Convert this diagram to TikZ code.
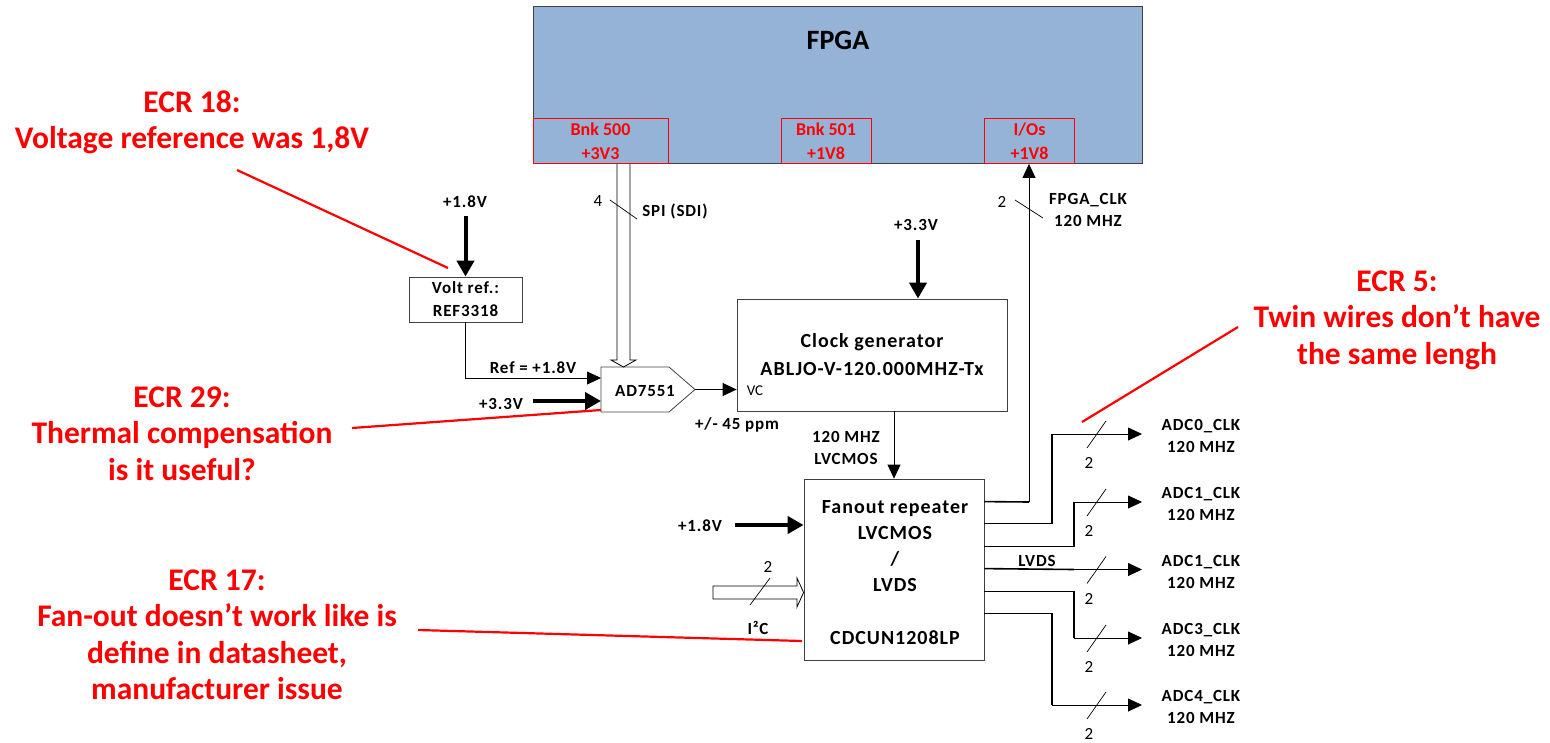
\documentclass[tikz,border=0pt]{standalone}
\usepackage{fontspec}
\setmainfont{Carlito}
\newfontfamily\lsfont[LetterSpace=5]{Carlito}
\usetikzlibrary{arrows.meta,calc}
\definecolor{fpgablue}{RGB}{149,179,215}
\definecolor{ecrred}{RGB}{255,0,0}
\definecolor{boxline}{RGB}{64,64,64}
\begin{document}
\begin{tikzpicture}[x=1pt,y=-1pt,
  box/.style={draw=boxline, line width=0.8pt, inner sep=0pt, align=center},
  bank/.style={draw=ecrred, text=ecrred, line width=0.8pt, minimum height=45pt, inner sep=0pt, align=center, font=\fontsize{18}{24}\selectfont\bfseries},
  lbl/.style={font=\lsfont\fontsize{17}{22}\selectfont\bfseries, inner sep=0pt, align=center},
  midtxt/.style={font=\lsfont\fontsize{20}{28}\selectfont\bfseries, inner sep=0pt, align=center},
  num/.style={font=\fontsize{17}{20}\selectfont, inner sep=0pt},
  ecr/.style={font=\fontsize{31.5}{36.5}\selectfont\bfseries, text=ecrred, align=center, inner sep=0pt},
  pwr/.style={line width=4pt, -{Triangle[length=16pt,width=17pt]}},
  sig/.style={line width=0.8pt, -{Triangle[length=14pt,width=13pt]}},
  wire/.style={line width=1.6pt},
  thinline/.style={line width=0.8pt},
  slash/.style={line width=0.7pt},
  redline/.style={draw=ecrred, line width=2.2pt}
]
\path[use as bounding box] (0,0) rectangle (1550,742);

% FPGA
\node[draw=boxline, fill=fpgablue, line width=0.8pt, minimum width=609pt, minimum height=157pt, inner sep=0pt] (fpga) at (837.5,84.5) {};
\node[font=\fontsize{28}{32}\selectfont\bfseries, inner sep=0pt] (fpgat) at (838,40) {FPGA};
\node[bank, minimum width=135pt] (b500) at (600.5,141) {Bnk 500\\+3V3};
\node[bank, minimum width=90pt] (b501) at (826,141) {Bnk 501\\+1V8};
\node[bank, minimum width=90pt] (bio) at (1029.5,141) {I/Os\\+1V8};

% Volt ref
\node[box, minimum width=113pt, minimum height=45pt, font=\lsfont\fontsize{17}{23}\selectfont\bfseries] (vref) at (465.5,299.5) {Volt ref.:\\REF3318};
\coordinate (p18a) at (465.5,216);
\node[lbl] (l18a) at (465,202) {+1.8V};
\draw[pwr] (p18a) -- (vref.north);

% AD7551
\coordinate (adnw) at (601,367);
\coordinate (adn) at (669,367);
\coordinate (adout) at (695,389.5);
\coordinate (ads) at (669,412);
\coordinate (adsw) at (601,412);
\draw[box] (adnw) -- (adn) -- (adout) -- (ads) -- (adsw) -- cycle;
\node[lbl] (ad) at (645,391) {AD7551};
\coordinate (adref) at (601,378);
\coordinate (ad33) at (601,401);
\draw[sig] (vref.south) |- (adref);
\node[lbl] (lref) at (533,368) {Ref = +1.8V};
\coordinate (p33a) at (533,401);
\node[lbl] (l33a) at (501,404) {+3.3V};
\draw[pwr] (p33a) -- (ad33);

% SPI bus
\coordinate (spitop) at (623.5,164);
\coordinate (spitip) at (623.5,367);
\draw[thinline] ($(spitop)+(-6.5,0)$) -- ($(spitip)+(-6.5,-7)$) -- ($(spitip)+(-12.5,-7)$) -- (spitip) -- ($(spitip)+(12.5,-7)$) -- ($(spitip)+(6.5,-7)$) -- ($(spitop)+(6.5,0)$);
\node[num] (n4) at (598,201) {4};
\draw[slash] (610,200) -- (637,219);
\node[lbl] (lspi) at (675,211) {SPI (SDI)};

% Clock generator
\node[box, minimum width=270pt, minimum height=112pt, midtxt] (clk) at (872,355) {Clock generator\\ABLJO-V-120.000MHZ-Tx};
\draw[sig] (adout) -- (adout -| clk.west);
\node[font=\fontsize{15}{17}\selectfont, inner sep=0pt] (vc) at (755,391) {VC};
\node[lbl] (lppm) at (737,425) {+/- 45 ppm};
\coordinate (p33b) at (918,240);
\node[lbl] (l33b) at (916,225) {+3.3V};
\draw[pwr] (p33b) -- (p33b |- clk.north);

% Fanout
\node[box, minimum width=180pt, minimum height=181pt] (fan) at (894,569.5) {};
\node[midtxt, font=\lsfont\fontsize{20}{26}\selectfont\bfseries] (fant) at (895,546) {Fanout repeater\\LVCMOS\\/\\LVDS};
\node[midtxt] (fanp) at (895,638) {CDCUN1208LP};
\draw[sig] (clk.south -| fan.north) -- (fan.north);
\node[lbl] (l120) at (846,448) {120 MHZ\\LVCMOS};
\coordinate (p18b) at (735,525);
\node[lbl] (l18b) at (700,526) {+1.8V};
\draw[pwr] (p18b) -- (p18b -| fan.west);

% I2C
\coordinate (i2c) at (713,592.5);
\draw[thinline] ($(i2c)+(0,-6.5)$) -- ++(84,0) -- ++(0,-8) -- (i2c -| fan.west) -- ($(i2c)+(84,14.5)$) -- ++(0,-8) -- ($(i2c)+(0,6.5)$) -- cycle;
\node[num] (n2i) at (768,567) {2};
\draw[slash] (750,605) -- (770,578);
\node[lbl] (li2c) at (758,628) {I²C};

% Outputs
\coordinate (o1) at ($(fan.north east)+(0,23)$);
\coordinate (o2) at ($(fan.north east)+(0,45)$);
\coordinate (o3) at ($(fan.north east)+(0,68)$);
\coordinate (o4) at ($(fan.north east)+(0,90)$);
\coordinate (o5) at ($(fan.north east)+(0,113)$);
\coordinate (o6) at ($(fan.north east)+(0,135)$);

% FPGA_CLK
\coordinate (fc) at (1029,502);
\draw[wire] (o1) -- (fc);
\draw[sig] (fc) -- (fc |- bio.south);
\node[num] (n2f) at (1002,202) {2};
\draw[slash] (1015,200) -- (1043,218);
\node[lbl] (lfclk) at (1088,210) {FPGA\_CLK\\120 MHZ};

% ADC outputs
\coordinate (c0) at (1052,434);  \coordinate (t0) at (1142,434);
\coordinate (c1) at (1074,502);  \coordinate (t1) at (1142,502);
\coordinate (c2) at (1074,569.5);\coordinate (t2) at (1142,569.5);
\coordinate (c3) at (1074,638);  \coordinate (t3) at (1142,638);
\coordinate (c4) at (1052,705);  \coordinate (t4) at (1142,705);
\draw[wire] (o2) -| (c0); \draw[sig] (c0) -- (t0);
\draw[wire] (o3) -| (c1); \draw[sig] (c1) -- (t1);
\draw[wire] (o4) -- (c2); \draw[sig] (c2) -- (t2);
\draw[wire] (o5) -| (c3); \draw[sig] (c3) -- (t3);
\draw[wire] (o6) -| (c4); \draw[sig] (c4) -- (t4);
\node[lbl] (llvds) at (1037,561) {LVDS};
\foreach \t/\n/\lab in {t0/a0/ADC0, t1/a1/ADC1, t2/a2/ADC1, t3/a3/ADC3, t4/a4/ADC4}{
  \draw[slash] ($(\t)+(-55,14)$) -- ($(\t)+(-36,-13)$);
  \node[num] (n\n) at ($(\t)+(-53,29)$) {2};
  \node[lbl] (\n) at ($(\t)+(59,2)$) {\lab\_CLK\\120 MHZ};
}

% ECR annotations
\node[ecr] (ecr18) at (192,122.5) {ECR 18:\\Voltage reference was 1,8V};
\coordinate (r18a) at (237,170); \coordinate (r18b) at (448,268);
\draw[redline] (r18a) -- (r18b);
\node[ecr] (ecr29) at (182,433.5) {ECR 29:\\Thermal compensation\\is it useful?};
\coordinate (r29a) at (352,428); \coordinate (r29b) at (601,410);
\draw[redline] (r29a) -- (r29b);
\node[ecr] (ecr17) at (217,635) {ECR 17:\\Fan-out doesn’t work like is\\define in datasheet,\\manufacturer issue};
\coordinate (r17a) at (418,630); \coordinate (r17b) at (802,641);
\draw[redline] (r17a) -- (r17b);
\node[ecr] (ecr5) at (1397,320) {ECR 5:\\Twin wires don’t have\\the same lengh};
\coordinate (r5a) at (1238,327); \coordinate (r5b) at (1082,422);
\draw[redline] (r5a) -- (r5b);
\end{tikzpicture}
\end{document}
